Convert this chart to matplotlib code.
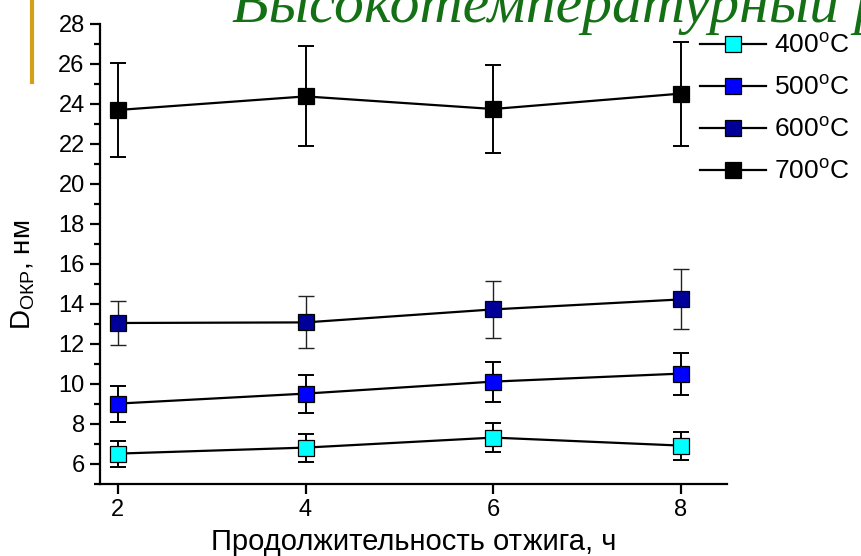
import matplotlib
matplotlib.use("Agg")
import matplotlib.pyplot as plt
from matplotlib.lines import Line2D
import numpy as np

plt.rcParams['font.family'] = ['Liberation Sans', 'DejaVu Sans']
plt.rcParams['mathtext.fontset'] = 'custom'
plt.rcParams['mathtext.rm'] = 'Liberation Sans'
plt.rcParams['mathtext.it'] = 'Liberation Sans:italic'

# ---- data ----
hours = [2, 4, 6, 8]
labels = ['400$^{\\mathregular{o}}$C', '500$^{\\mathregular{o}}$C',
          '600$^{\\mathregular{o}}$C', '700$^{\\mathregular{o}}$C']
d400 = [6.52, 6.82, 7.32, 6.92]
e400 = [0.65, 0.70, 0.74, 0.70]
d500 = [9.02, 9.52, 10.12, 10.52]
e500 = [0.90, 0.95, 1.00, 1.05]
d600 = [13.05, 13.08, 13.73, 14.23]
e600 = [1.12, 1.30, 1.42, 1.50]
d700 = [23.70, 24.38, 23.75, 24.52]
e700 = [2.37, 2.50, 2.20, 2.60]
colors = ['#00FFFF', '#0000FF', '#000099', '#000000']
title_text = 'Высокотемпературный р'
xlabel = 'Продолжительность отжига, ч'
ylabel = 'D$_{\\mathregular{ОКР}}$, нм'

fig = plt.figure(figsize=(8.61, 5.56), dpi=100)
ax = fig.add_axes([100/861, 1-484/556, 627/861, 460/556])

series = [(d400, e400), (d500, e500), (d600, e600), (d700, e700)]
handles = []
for (vals, errs), c, lab in zip(series, colors, labels):
    elw = 1.0 if c == '#000099' else 1.4
    ecol = '#222222' if c == '#000099' else 'black'
    ax.errorbar(hours, vals, yerr=errs, fmt='none', ecolor=ecol,
                elinewidth=elw, capsize=6, capthick=elw, zorder=2)
    ax.plot(hours, vals, '-', color='black', lw=1.6, zorder=3)
    ax.plot(hours, vals, 's', ms=11.5, mfc=c, mec='black', mew=0.9,
            ls='none', zorder=4)
    handles.append(Line2D([0], [0], color='black', lw=1.6, marker='s',
                          ms=11.5, mfc=c, mec='black', mew=0.9, label=lab))

ax.set_xlim(1.81, 8.49)
ax.set_ylim(5, 28)
ax.set_xticks(hours)
ax.set_yticks(np.arange(6, 29, 2))
ax.set_yticks(np.arange(5, 28, 2), minor=True)
for s in ['top', 'right']:
    ax.spines[s].set_visible(False)
for s in ['left', 'bottom']:
    ax.spines[s].set_linewidth(1.6)
ax.tick_params(axis='both', which='major', direction='out', length=7,
               width=1.6, labelsize=17, pad=4)
ax.tick_params(axis='y', which='minor', direction='out', length=4.5, width=1.6)
ax.set_xlabel(xlabel, fontsize=21, labelpad=5)
ax.set_ylabel(ylabel, fontsize=20)
ax.yaxis.set_label_coords(-0.100, 0.454)

fig.legend(handles=handles, loc='upper left',
           bbox_to_anchor=(700/861, 1-34/556), frameon=False,
           fontsize=19, handlelength=2.5, handletextpad=0.3,
           labelspacing=0.68, borderpad=0, borderaxespad=0)

fig.text(232/861, 1-22/556, title_text, fontsize=43, color='#147014',
         family='Liberation Serif', style='italic', va='baseline', ha='left')

fig.add_artist(Line2D([32/861, 32/861], [1.0, 1-82/556],
                      transform=fig.transFigure, color='#D4A017', lw=3))

fig.savefig('out.png', dpi=100)
